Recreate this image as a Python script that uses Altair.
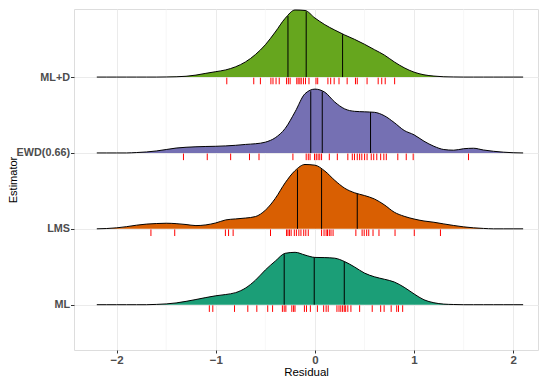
import json
import altair as alt
import pandas as pd

# ---------------- data ----------------
estimators = ["ML", "LMS", "EWD(0.66)", "ML+D"]          # bottom -> top
fill_colors = ["#1B9E77", "#D95F02", "#7570B3", "#66A61E"]

residual_grid = [-2.2, -2.1, -2.0, -1.9, -1.8, -1.7, -1.6, -1.5, -1.4, -1.3,
                 -1.2, -1.1, -1.0, -0.9, -0.8, -0.7, -0.6, -0.5, -0.4, -0.3,
                 -0.2, -0.1, 0.0, 0.1, 0.2, 0.3, 0.4, 0.5, 0.6, 0.7,
                 0.8, 0.9, 1.0, 1.1, 1.2, 1.3, 1.4, 1.5, 1.6, 1.7,
                 1.8, 1.9, 2.0, 2.1]

# ridge heights (scaled density) at residual_grid
dens_ml = [0, 0, 0, 0, 0, 0, 0.3, 0.8, 1.8, 3.4,
           5.3, 7.3, 9.1, 10.4, 12.3, 17, 25, 35.5, 44.5, 52.5,
           53.5, 50.7, 48.3, 48.1, 47.5, 44, 38.5, 32.3, 28.5, 26,
           23.2, 17.8, 11, 5, 2, 0.6, 0.2, 0, 0, 0,
           0, 0, 0, 0]
dens_lms = [0, 0.3, 1.0, 2.2, 3.7, 4.8, 5.4, 5.7, 5.3, 4.4,
            3.3, 4.0, 6.0, 9.1, 10.1, 11, 12.5, 19, 31, 47,
            59.5, 65.7, 65, 59, 49.5, 41.5, 36.8, 34, 30.5, 24.5,
            17, 12.8, 10, 8, 6.7, 5, 3.4, 2, 1, 0.4,
            0, 0, 0, 0]
dens_ewd = [0, 0, 0, 0, 0.4, 1.0, 2.0, 3.5, 5.0, 5.8,
            6.3, 6.6, 6.8, 7.2, 7.8, 8.7, 9.4, 11, 15.5, 25,
            42, 60.5, 65.2, 62, 52, 45, 42.5, 42, 41.5, 38,
            31, 23, 18.5, 12, 6.8, 3.5, 2.8, 4.3, 4.8, 3.0,
            1.7, 0.8, 0.2, 0]
dens_mld = [0, 0, 0, 0, 0, 0, 0, 0.1, 0.3, 0.8,
            2, 3.8, 5.5, 7.3, 10.5, 15.5, 23, 33, 46, 60,
            68.5, 68, 60.3, 53.5, 48, 43, 38.5, 33.5, 28, 22.5,
            15.5, 9.5, 5, 2.3, 1, 0.3, 0.1, 0, 0, 0,
            0, 0, 0, 0]

# quartile lines: position and ridge height there
quart_ml = [-0.310, -0.007, 0.296]
quart_ml_h = [51.5, 48.3, 44.0]
quart_lms = [-0.176, 0.067, 0.427]
quart_lms_h = [60.5, 60.8, 35.8]
quart_ewd = [-0.042, 0.074, 0.561]
quart_ewd_h = [63.0, 62.8, 41.6]
quart_mld = [-0.272, -0.088, 0.279]
quart_mld_h = [62.3, 66.8, 43.8]

# residuals (rug)
rug_ml = [-1.065, -1.030, -0.811, -0.677, -0.586, -0.476, -0.427, -0.328, -0.310,
          -0.293, -0.233, -0.215, -0.201, -0.106, -0.085, -0.046, 0.025, 0.088,
          0.113, 0.134, 0.222, 0.243, 0.261, 0.279, 0.296, 0.310, 0.332, 0.363,
          0.451, 0.578, 0.663, 0.698, 0.769, 0.825, 0.843, 0.885]
rug_lms = [-1.654, -1.414, -0.903, -0.871, -0.825, -0.448, -0.286, -0.272, -0.257,
           -0.240, -0.208, -0.187, -0.162, -0.141, -0.113, -0.092, -0.067, 0.067,
           0.092, 0.113, 0.127, 0.145, 0.162, 0.183, 0.413, 0.476, 0.497, 0.522,
           0.543, 0.586, 0.646, 0.808, 1.002, 1.266]
rug_ewd = [-1.326, -1.086, -0.850, -0.660, -0.564, -0.222, -0.088, -0.067, -0.049,
           -0.004, 0.014, 0.032, 0.049, 0.067, 0.145, 0.226, 0.332, 0.377, 0.399,
           0.427, 0.451, 0.473, 0.501, 0.526, 0.568, 0.593, 0.624, 0.663, 0.695,
           0.720, 0.836, 0.921, 0.991, 1.549]
rug_mld = [-0.889, -0.617, -0.550, -0.444, -0.423, -0.392, -0.360, -0.286, -0.268,
           -0.250, -0.183, -0.169, -0.152, -0.138, -0.116, -0.095, -0.060, 0.011,
           0.028, 0.131, 0.159, 0.194, 0.243, 0.325, 0.409, 0.427, 0.526, 0.638,
           0.674, 0.709, 0.804]

x_ticks = [-2, -1, 0, 1, 2]
x_minor = [-1.5, -0.5, 0.5, 1.5]

# ---------------- tables ----------------
dens_all = [dens_ml, dens_lms, dens_ewd, dens_mld]
quart_all = [(quart_ml, quart_ml_h), (quart_lms, quart_lms_h),
             (quart_ewd, quart_ewd_h), (quart_mld, quart_mld_h)]
rug_all = [rug_ml, rug_lms, rug_ewd, rug_mld]

dens_rows, quart_rows, rug_rows = [], [], []
for i, est in enumerate(estimators):
    for r, d in zip(residual_grid, dens_all[i]):
        dens_rows.append({"estimator": est, "row": i, "residual": r, "density": d})
    for q, h in zip(*quart_all[i]):
        quart_rows.append({"estimator": est, "row": i, "q": q, "density": h})
    for r in rug_all[i]:
        rug_rows.append({"estimator": est, "row": i, "residual": r})

df_dens = pd.DataFrame(dens_rows)
df_quart = pd.DataFrame(quart_rows)
df_rug = pd.DataFrame(rug_rows)
df_minor = pd.DataFrame({"v": x_minor})

RIDGE_SCALE = 77.5  # density units per row step

FONT = "Liberation Sans"
xscale = alt.Scale(domain=[-2.43, 2.25], nice=False, zero=False)
yscale = alt.Scale(domain=[-0.597, 3.897], nice=False, zero=False)

xaxis = alt.Axis(values=x_ticks, format="d", title="Residual", grid=True,
                 gridColor="#EBEBEB", gridWidth=1, domain=False,
                 tickColor="#333333", tickSize=3,
                 labelFont=FONT, labelFontSize=11.5, labelFontWeight="bold",
                 labelColor="#4D4D4D", labelPadding=1,
                 titleFont=FONT, titleFontSize=11.5, titleFontWeight="normal",
                 titleColor="black", titlePadding=1)
yaxis = alt.Axis(values=[0, 1, 2, 3], title="Estimator", grid=True,
                 gridColor="#EBEBEB", gridWidth=1, domain=False,
                 tickColor="#333333", tickSize=3.5,
                 labelExpr=f"{json.dumps(estimators)}[datum.value]",
                 labelFont=FONT, labelFontSize=10.8, labelFontWeight="bold",
                 labelColor="#4D4D4D", labelPadding=1,
                 titleFont=FONT, titleFontSize=11, titleFontWeight="normal",
                 titleColor="black", titleX=-55.5)

minor = alt.Chart(df_minor).mark_rule(color="#F2F2F2", strokeWidth=0.6).encode(
    x=alt.X("v:Q", scale=xscale, axis=xaxis)
)

base = alt.Chart(df_dens).transform_calculate(
    top=f"datum.row + datum.density / {RIDGE_SCALE}"
)
area = base.mark_area(interpolate="monotone").encode(
    x=alt.X("residual:Q", scale=xscale, axis=xaxis),
    y=alt.Y("top:Q", scale=yscale, axis=yaxis),
    y2=alt.Y2("row:Q"),
    color=alt.Color("estimator:N",
                    scale=alt.Scale(domain=estimators, range=fill_colors),
                    legend=None),
)
outline = base.mark_line(interpolate="monotone", color="black", strokeWidth=1).encode(
    x=alt.X("residual:Q", scale=xscale),
    y=alt.Y("top:Q", scale=yscale),
    detail="estimator:N",
)

quart = alt.Chart(df_quart).transform_calculate(
    top=f"datum.row + datum.density / {RIDGE_SCALE}"
).mark_rule(color="black", strokeWidth=1).encode(
    x=alt.X("q:Q", scale=xscale),
    y=alt.Y("row:Q", scale=yscale),
    y2="top:Q",
)

rug = alt.Chart(df_rug).transform_calculate(
    r1="datum.row - 0.008", r2="datum.row - 0.095"
).mark_rule(color="#FF0000", strokeWidth=1).encode(
    x=alt.X("residual:Q", scale=xscale),
    y=alt.Y("r1:Q", scale=yscale),
    y2="r2:Q",
)

chart = alt.layer(minor, area, outline, quart, rug).properties(
    width=464, height=341,
    autosize=alt.AutoSizeParams(type="none"),
    padding={"left": 66, "top": 1, "right": 4, "bottom": 30},
).configure_view(stroke="#8A8A8A", strokeWidth=1).configure(background="white")

chart.save("out.html", embed_options={"renderer": "svg", "actions": False})
